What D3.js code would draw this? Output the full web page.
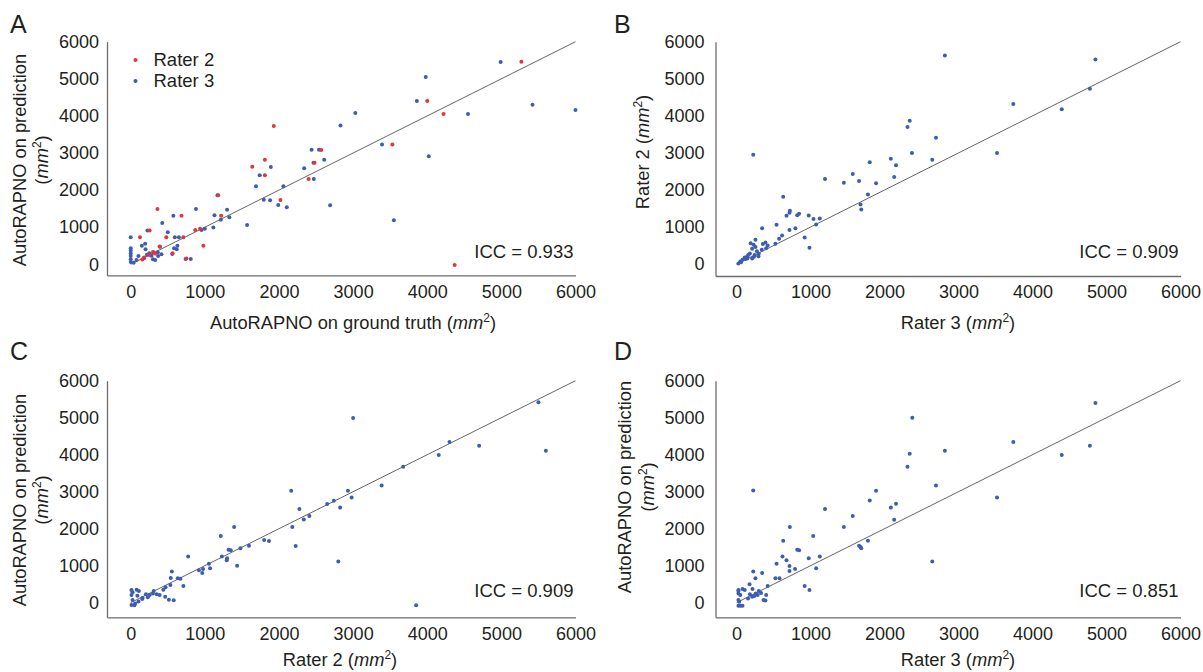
<!DOCTYPE html>
<html>
<head>
<meta charset="utf-8">
<script src="https://cdn.jsdelivr.net/npm/d3@7"></script>
<style>
  body { margin: 0; background: #fff; }
  text { font-family: "Liberation Sans", Arial, Helvetica, sans-serif; fill: #231f20; }
  .axis path { stroke: #6d6d6d; stroke-width: 1.3; }
  .axis text { fill: #231f20; }
</style>
</head>
<body>
<svg id="chart" width="1203" height="672"></svg>
<script>
//////////////// Daten ////////////////////
const tickValues = [0, 1000, 2000, 3000, 4000, 5000, 6000];
const panelLetters = ["A", "B", "C", "D"];
const iccLabels = ["ICC = 0.933", "ICC = 0.909", "ICC = 0.909", "ICC = 0.851"];
const legendLabels = ["Rater 2", "Rater 3"];

// A: AutoRAPNO on ground truth (x) vs AutoRAPNO on prediction (y)
const aRater2 = [
  [5270,5460],[4000,4400],[4220,4050],[3530,3230],[4370,-20],[1930,3730],[1810,2820],[1640,2630],
  [1810,2400],[2570,3080],[2480,2740],[2400,2300],[2020,1730],[1180,1860],[1220,1310],[685,1310],
  [360,1490],[255,910],[870,925],[935,960],[480,730],[710,730],[125,730],[980,500],[565,296],
  [389,476],[156,126],[752,153],[300,330],[250,250],[330,290],[180,180]
];
const aRater3 = [
  [4990,5450],[3980,5050],[3860,4400],[5420,4300],[6000,4160],[4550,4050],[3030,4080],[2830,3740],
  [3390,3230],[4020,2910],[3550,1190],[2690,1590],[2440,3090],[2540,3090],[2610,2820],[2465,2740],
  [2340,2590],[2470,2300],[1890,2620],[1740,2400],[1690,2100],[2060,2100],[1795,1740],[1880,1725],
  [1990,1600],[2105,1535],[1570,1060],[1170,1860],[880,1490],[1300,1470],[1130,1320],[1330,1270],
  [1215,1200],[1115,990],[1000,960],[955,925],[575,1310],[425,1115],[500,860],[225,910],[0,730],
  [595,730],[650,730],[630,500],[585,430],[620,405],[195,555],[150,500],[200,405],[395,475],
  [415,270],[370,225],[560,280],[740,145],[810,145],[0,430],[0,370],[0,300],[0,225],[0,135],[0,60],
  [104,225],[78,117],[180,160],[300,135],[330,117],[250,296],[310,315],[365,323],[220,260],[280,230],[40,40]
];
// B: Rater 3 (x) vs Rater 2 (y)
const bPoints = [
  [2815,5630],[4850,5520],[4775,4730],[3740,4320],[4395,4175],[2340,3870],[2310,3700],[2695,3410],
  [2370,3000],[3520,2995],[225,2950],[2085,2845],[2645,2815],[1800,2750],[2155,2665],[1570,2430],
  [2130,2350],[1195,2295],[1655,2240],[1450,2195],[1885,2180],[1775,1880],[630,1815],[1675,1610],
  [1685,1475],[720,1440],[715,1385],[675,1305],[820,1320],[845,1360],[975,1315],[1040,1215],
  [1125,1230],[1075,1070],[540,1060],[345,965],[795,970],[715,920],[920,720],[985,440],[615,775],
  [575,685],[525,550],[390,585],[355,540],[420,505],[400,430],[340,385],[255,655],[190,565],
  [230,520],[255,460],[210,415],[275,350],[180,290],[295,215],[235,200],[145,215],[110,180],
  [80,115],[50,70],[25,20],[145,155],[210,155],[245,245],[300,280],[160,250],[120,140],[60,50]
];
// C: Rater 2 (x) vs AutoRAPNO on prediction (y)
const cPoints = [
  [5500,5415],[3000,4990],[4300,4340],[4700,4245],[4155,3990],[5600,4110],[3675,3675],[3385,3170],
  [2165,3025],[2930,3025],[2980,2840],[2740,2755],[2650,2665],[2825,2570],[2275,2530],[2410,2340],
  [2335,2250],[2180,2045],[1395,2045],[1215,1800],[1800,1695],[1865,1665],[1595,1540],[1480,1470],
  [1320,1430],[1350,1415],[2225,1530],[1230,1250],[1300,1200],[1295,1145],[775,1250],[1435,1000],
  [1055,1055],[1070,930],[920,875],[975,910],[965,800],[2800,1115],[3850,-70],[555,840],[540,665],
  [635,660],[670,650],[710,450],[535,475],[470,420],[440,350],[580,65],[515,80],[465,160],[310,315],
  [390,210],[205,225],[255,205],[155,100],[105,35],[10,340],[25,280],[10,210],[80,350],[110,315],
  [90,190],[25,70],[10,-65],[50,-70],[300,250],[350,230],[230,150],[160,130],[60,-20]
];
// D: Rater 3 (x) vs AutoRAPNO on prediction (y)
const dPoints = [
  [4850,5395],[2375,5000],[3740,4340],[4775,4245],[4395,3990],[2340,4025],[2815,4110],[2310,3675],
  [2695,3170],[225,3035],[1885,3025],[3520,2840],[1800,2765],[1195,2530],[2085,2570],[2155,2675],
  [1570,2340],[2130,2245],[720,2045],[1450,2045],[1035,1800],[630,1675],[1775,1675],[1655,1540],
  [1675,1505],[1685,1470],[820,1430],[845,1415],[620,1250],[1125,1250],[675,1145],[975,1200],
  [540,1055],[715,990],[790,910],[1075,930],[715,855],[2645,1115],[525,660],[580,660],[920,450],
  [985,340],[225,845],[345,800],[255,660],[175,495],[420,450],[400,205],[365,70],[390,60],[215,370],
  [300,315],[260,250],[285,205],[210,160],[155,115],[110,340],[25,315],[25,245],[50,210],[25,340],
  [80,370],[25,70],[35,25],[25,-80],[80,-80],[50,-80],[180,230],[240,180],[330,260]
];

//////////////// Farben ////////////////////
const red = "#e7333a", blue = "#3d5db3";

//////////////// Panels ////////////////////
const svg = d3.select("#chart");

const panels = [
  {lx: 10, ly: 33, x0: 107, x1: 575.5, xmin: -320, yb: 275.4, yt: 41.7, ymin: -300,
   series: [{pts: aRater3, color: blue}, {pts: aRater2, color: red}],
   xTitle: "AutoRAPNO on ground truth (", xtx: 353, xty: 329,
   yTitle: ["AutoRAPNO on prediction", "("], ytx: [26, 48], yty: 160, yPad: 8},
  {lx: 614, ly: 33, x0: 715.5, x1: 1180.5, xmin: -285, yb: 276, yt: 41.7, ymin: -320,
   series: [{pts: bPoints, color: blue}],
   xTitle: "Rater 3 (", xtx: 958, xty: 329,
   yTitle: ["Rater 2 ("], ytx: [649], yty: 152, yPad: 11},
  {lx: 10, ly: 360, x0: 107, x1: 575.5, xmin: -320, yb: 617.3, yt: 380.7, ymin: -395,
   series: [{pts: cPoints, color: blue}],
   xTitle: "Rater 2 (", xtx: 340, xty: 666,
   yTitle: ["AutoRAPNO on prediction", "("], ytx: [26, 48], yty: 500, yPad: 8},
  {lx: 614, ly: 360, x0: 715.5, x1: 1180.5, xmin: -285, yb: 617.3, yt: 380.7, ymin: -395,
   series: [{pts: dPoints, color: blue}],
   xTitle: "Rater 3 (", xtx: 958, xty: 666,
   yTitle: ["AutoRAPNO on prediction", "("], ytx: [631, 654], yty: 487, yPad: 11}
];

// "(mm²)" Anhang an einen Text
function addUnit(t) {
  t.append("tspan").style("font-style", "italic").text("mm");
  t.append("tspan").attr("dy", -7).style("font-size", "12px").text("2");
  t.append("tspan").attr("dy", 7).text(")");
}

panels.forEach(function(p, i) {
  const xScale = d3.scaleLinear().domain([p.xmin, 6000]).range([p.x0, p.x1]);
  const yScale = d3.scaleLinear().domain([p.ymin, 6000]).range([p.yb, p.yt]);
  const g = svg.append("g");

  g.append("g").attr("class", "axis")
    .attr("transform", "translate(0," + p.yb + ")")
    .call(d3.axisBottom(xScale).tickValues(tickValues).tickSize(0).tickPadding(9.5).tickFormat(d3.format("d")))
    .call(s => s.selectAll("text").style("font-size", "18px").style("font-family", null));

  g.append("g").attr("class", "axis")
    .attr("transform", "translate(" + p.x0 + ",0)")
    .call(d3.axisLeft(yScale).tickValues(tickValues).tickSize(0).tickPadding(p.yPad).tickFormat(d3.format("d")))
    .call(s => s.selectAll("text").style("font-size", "18px"));
  g.selectAll(".axis").attr("font-family", null);

  // Winkelhalbierende
  g.append("line")
    .attr("x1", xScale(0)).attr("y1", yScale(0))
    .attr("x2", xScale(6000)).attr("y2", yScale(6000))
    .attr("stroke", "#555").attr("stroke-width", 0.9);

  p.series.forEach(function(s) {
    g.append("g").selectAll("circle")
      .data(s.pts)
      .enter()
      .append("circle")
      .attr("cx", d => xScale(d[0]))
      .attr("cy", d => yScale(d[1]))
      .attr("r", 2)
      .attr("fill", s.color);
  });

  g.append("text").attr("x", p.lx).attr("y", p.ly)
    .style("font-size", "25px").text(panelLetters[i]);

  g.append("text").attr("x", xScale(6000) - 2).attr("y", yScale(0) - 6)
    .attr("text-anchor", "end").style("font-size", "18.5px").text(iccLabels[i]);

  const xt = g.append("text").attr("x", p.xtx).attr("y", p.xty)
    .attr("text-anchor", "middle").style("font-size", "18.3px").text(p.xTitle);
  addUnit(xt);

  p.yTitle.forEach(function(line, k) {
    const yt = g.append("text")
      .attr("transform", "translate(" + p.ytx[k] + "," + p.yty + ") rotate(-90)")
      .attr("text-anchor", "middle").style("font-size", "18.3px").text(line);
    if (line.endsWith("(")) addUnit(yt);
  });

  if (i === 0) {
    const leg = g.append("g");
    [red, blue].forEach(function(c, k) {
      leg.append("circle").attr("cx", 135.5).attr("cy", 60 + k * 21).attr("r", 2).attr("fill", c);
      leg.append("text").attr("x", 153.5).attr("y", 66 + k * 21)
        .style("font-size", "18.5px").text(legendLabels[k]);
    });
  }
});
</script>
</body>
</html>
